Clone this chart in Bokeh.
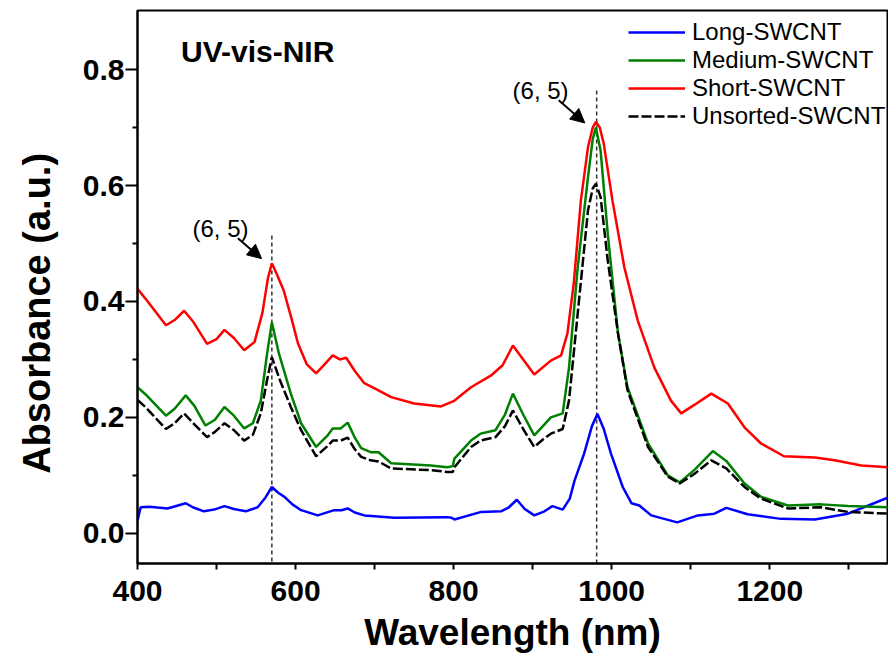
import math
from bokeh.plotting import figure
from bokeh.models import (Range1d, Label, Arrow, NormalHead, Legend, LegendItem,
                          FixedTicker, CustomJSTickFormatter)
from bokeh.embed import file_html
from bokeh.resources import INLINE

# ---------------- data ----------------
long_x = [400, 404, 415, 438, 461, 470, 484, 497, 510, 522, 537, 552, 562, 570, 578, 586, 596,
          607, 628, 649, 658, 666, 675, 687, 725, 792, 797, 801, 835, 860, 870, 880, 890, 902,
          915, 925, 938, 947, 953, 965, 975, 982, 990, 999, 1014, 1025, 1035, 1050, 1083,
          1109, 1130, 1145, 1172, 1214, 1257, 1299, 1350]
long_y = [0.022, 0.045, 0.046, 0.043, 0.052, 0.045, 0.038, 0.041, 0.047, 0.042, 0.038, 0.045,
          0.062, 0.080, 0.070, 0.063, 0.050, 0.040, 0.031, 0.040, 0.040, 0.043, 0.036, 0.031,
          0.027, 0.028, 0.027, 0.024, 0.037, 0.038, 0.045, 0.058, 0.042, 0.031, 0.038, 0.047,
          0.041, 0.060, 0.091, 0.137, 0.185, 0.206, 0.180, 0.138, 0.080, 0.052, 0.048, 0.031,
          0.019, 0.031, 0.034, 0.044, 0.033, 0.025, 0.024, 0.034, 0.062]

medium_x = [400, 410, 436, 447, 461, 472, 486, 498, 510, 522, 535, 546, 556, 564, 570, 579,
            594, 607, 626, 640, 647, 657, 666, 675, 683, 695, 705, 721, 771, 792, 799, 801,
            822, 834, 853, 865, 875, 888, 902, 913, 923, 938, 946, 957, 970, 976, 980, 986,
            995, 1008, 1020, 1046, 1071, 1086, 1105, 1128, 1145, 1168, 1189, 1223, 1265,
            1299, 1350]
medium_y = [0.252, 0.240, 0.203, 0.215, 0.238, 0.220, 0.186, 0.196, 0.218, 0.203, 0.181, 0.190,
            0.229, 0.310, 0.364, 0.310, 0.241, 0.190, 0.149, 0.168, 0.181, 0.181, 0.191, 0.165,
            0.147, 0.140, 0.140, 0.121, 0.117, 0.114, 0.116, 0.129, 0.160, 0.172, 0.178, 0.205,
            0.241, 0.205, 0.169, 0.185, 0.200, 0.207, 0.286, 0.459, 0.614, 0.680, 0.700, 0.660,
            0.517, 0.345, 0.252, 0.155, 0.100, 0.088, 0.110, 0.142, 0.125, 0.086, 0.063, 0.048,
            0.050, 0.047, 0.045]

short_x = [400, 410, 436, 447, 459, 470, 488, 500, 510, 522, 535, 548, 558, 565, 570, 577, 585,
           595, 603, 614, 626, 637, 647, 656, 664, 675, 687, 700, 721, 750, 784, 800, 822, 847,
           862, 875, 888, 902, 923, 936, 944, 952, 961, 970, 976, 980, 985, 990, 1001, 1016,
           1033, 1054, 1075, 1088, 1105, 1126, 1147, 1168, 1189, 1218, 1257, 1282, 1316, 1350]
short_y = [0.422, 0.405, 0.359, 0.368, 0.384, 0.366, 0.327, 0.335, 0.351, 0.337, 0.316, 0.330,
           0.380, 0.440, 0.466, 0.445, 0.419, 0.370, 0.328, 0.292, 0.276, 0.292, 0.307, 0.300,
           0.303, 0.280, 0.259, 0.250, 0.235, 0.224, 0.219, 0.228, 0.252, 0.272, 0.290, 0.324,
           0.300, 0.274, 0.298, 0.307, 0.345, 0.431, 0.574, 0.666, 0.700, 0.710, 0.700, 0.672,
           0.574, 0.459, 0.367, 0.286, 0.229, 0.207, 0.222, 0.241, 0.224, 0.183, 0.155, 0.133,
           0.131, 0.126, 0.117, 0.114]

unsorted_x = [400, 410, 436, 447, 459, 472, 488, 498, 510, 522, 535, 546, 556, 564, 570, 580,
              594, 607, 626, 640, 647, 657, 666, 675, 683, 695, 705, 721, 771, 792, 799, 801,
              822, 834, 853, 865, 875, 888, 902, 913, 923, 938, 946, 957, 970, 976, 980, 986,
              995, 1008, 1020, 1046, 1071, 1086, 1105, 1126, 1145, 1168, 1189, 1223, 1265,
              1299, 1350]
unsorted_y = [0.230, 0.218, 0.180, 0.190, 0.207, 0.188, 0.166, 0.175, 0.190, 0.178, 0.160, 0.170,
              0.207, 0.265, 0.304, 0.265, 0.218, 0.178, 0.133, 0.150, 0.160, 0.160, 0.165, 0.145,
              0.132, 0.126, 0.124, 0.112, 0.109, 0.106, 0.106, 0.114, 0.149, 0.160, 0.166, 0.185,
              0.212, 0.180, 0.149, 0.162, 0.172, 0.180, 0.229, 0.379, 0.557, 0.595, 0.603, 0.580,
              0.471, 0.345, 0.247, 0.149, 0.098, 0.086, 0.103, 0.126, 0.112, 0.080, 0.060, 0.043,
              0.045, 0.037, 0.034]

series_names = ["Long-SWCNT", "Medium-SWCNT", "Short-SWCNT", "Unsorted-SWCNT"]
peak_nm = [570, 981]          # (6,5) transitions marked by dotted lines
peak_line_top = [0.514, 0.764]
peak_label = "(6, 5)"
x_ticks = [400, 600, 800, 1000, 1200]
x_minor = [500, 700, 900, 1100, 1300]
y_ticks = [0.0, 0.2, 0.4, 0.6, 0.8]
y_minor = [0.1, 0.3, 0.5, 0.7]

# ---------------- figure ----------------
X0, X1 = 400, 1349
Y0, Y1 = -0.052, 0.902
FONT = "Liberation Sans"
NB = "\u00a0"

p = figure(width=888, height=661, output_backend="svg", toolbar_location=None,
           x_range=Range1d(X0, X1), y_range=Range1d(Y0, Y1),
           min_border_left=137, min_border_right=1, min_border_top=10, min_border_bottom=98)
p.background_fill_color = "white"
p.border_fill_color = "white"
p.grid.visible = False
p.outline_line_color = "black"
p.outline_line_width = 2

p.xaxis.ticker = FixedTicker(ticks=x_ticks, minor_ticks=x_minor)
p.yaxis.ticker = FixedTicker(ticks=y_ticks, minor_ticks=y_minor)
p.yaxis.formatter = CustomJSTickFormatter(code="return tick.toFixed(1);")

for ax in (p.xaxis[0], p.yaxis[0]):
    ax.axis_line_width = 2
    ax.axis_line_color = "black"
    ax.major_tick_line_width = 2
    ax.minor_tick_line_width = 2
    ax.major_tick_in = 0
    ax.minor_tick_in = 0
    ax.major_label_text_font = FONT
    ax.major_label_text_font_style = "bold"
    ax.major_label_text_font_size = "30px"
    ax.major_label_text_color = "black"
    ax.axis_label_text_font = FONT
    ax.axis_label_text_font_style = "bold"
    ax.axis_label_text_color = "black"
p.xaxis.major_tick_out = 6
p.xaxis.minor_tick_out = 6
p.xaxis.major_label_standoff = 11
p.xaxis.axis_label = "Wavelength (nm)"
p.xaxis.axis_label_text_font_size = "37px"
p.xaxis.axis_label_standoff = 8
p.yaxis.major_tick_out = 12
p.yaxis.minor_tick_out = 5
p.yaxis.major_label_standoff = 1
p.yaxis.axis_label = "Absorbance (a.u.)" + NB * 5
p.yaxis.axis_label_text_font_size = "38px"
p.yaxis.axis_label_standoff = 22

# dotted peak markers
p.segment(x0=peak_nm, y0=peak_line_top, x1=peak_nm, y1=[Y0] * len(peak_nm),
          line_color="#333333", line_width=1.5, line_dash="4 3")

# spectra
r_long = p.line(long_x, long_y, line_color="#0000ff", line_width=2.5)
r_med = p.line(medium_x, medium_y, line_color="#008000", line_width=2.5)
r_uns = p.line(unsorted_x, unsorted_y, line_color="black", line_width=2.5, line_dash="10 3")
r_short = p.line(short_x, short_y, line_color="#ff0000", line_width=2.5)

legend = Legend(items=[LegendItem(label=series_names[0], renderers=[r_long]),
                       LegendItem(label=series_names[1], renderers=[r_med]),
                       LegendItem(label=series_names[2], renderers=[r_short]),
                       LegendItem(label=series_names[3], renderers=[r_uns])],
                location=(491, 433), orientation="vertical")
legend.background_fill_alpha = 0
legend.border_line_alpha = 0
legend.padding = 0
legend.margin = 0
legend.spacing = 0
legend.glyph_width = 57
legend.glyph_height = 28
legend.label_height = 28
legend.label_standoff = 7
legend.label_text_font = FONT
legend.label_text_font_size = "24px"
legend.label_text_color = "black"
legend.label_text_baseline = "middle"
p.add_layout(legend, "center")

# texts
p.add_layout(Label(x=455, y=0.831, text="UV-vis-NIR", text_font=FONT, text_font_style="bold",
                   text_font_size="30px", text_color="black",
                   text_align="left", text_baseline="middle"))
p.add_layout(Label(x=505, y=0.526, text=peak_label, text_font=FONT, text_font_size="24px",
                   text_color="black", text_align="center", text_baseline="middle"))
p.add_layout(Label(x=910, y=0.764, text=peak_label, text_font=FONT, text_font_size="24px",
                   text_color="black", text_align="center", text_baseline="middle"))
p.add_layout(Arrow(x_start=527, y_start=0.509, x_end=557, y_end=0.474, line_width=2,
                   end=NormalHead(size=14, fill_color="black", line_color="black")))
p.add_layout(Arrow(x_start=933, y_start=0.747, x_end=966, y_end=0.708, line_width=2,
                   end=NormalHead(size=14, fill_color="black", line_color="black")))

open("out.html", "w").write(file_html(p, INLINE))
